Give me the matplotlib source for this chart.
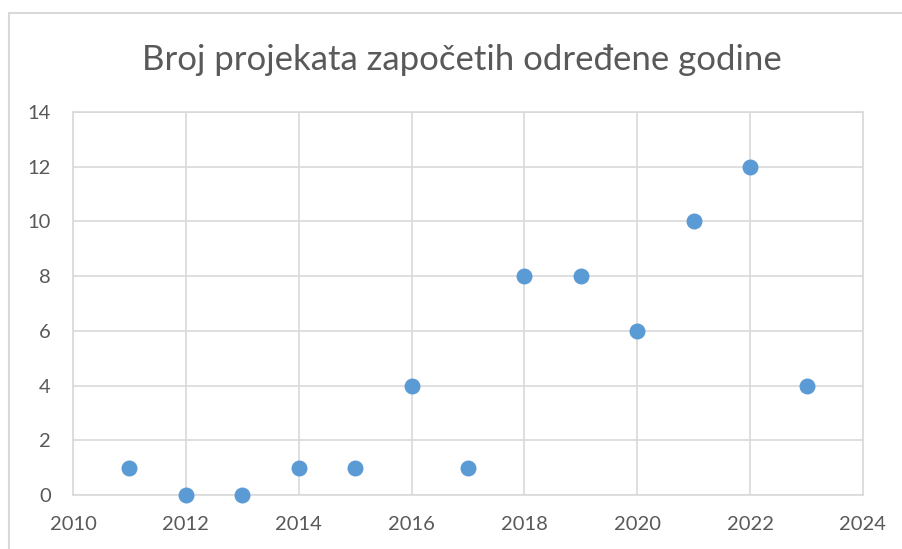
import matplotlib
matplotlib.use('Agg')
import matplotlib.pyplot as plt
from matplotlib.patches import Rectangle

# godine i broj projekata
godine = [2011, 2012, 2013, 2014, 2015, 2016, 2017, 2018, 2019, 2020, 2021, 2022, 2023]
broj = [1, 0, 0, 1, 1, 4, 1, 8, 8, 6, 10, 12, 4]
x_ticks = [2010, 2012, 2014, 2016, 2018, 2020, 2022, 2024]
y_ticks = [0, 2, 4, 6, 8, 10, 12, 14]

plt.rcParams['font.family'] = ['Lato', 'DejaVu Sans']

fig = plt.figure(figsize=(9.03, 5.49), dpi=100)
ax = fig.add_axes([73/903, 1 - 495/549, (863 - 73)/903, (495 - 112)/549])

# okvir grafikona
fig.patches.append(Rectangle((9/903, -0.1), 1.2, 0.1 + 1 - 13/549, transform=fig.transFigure,
                             fill=False, edgecolor='#d9d9d9', linewidth=1.5))

ax.scatter(godine, broj, s=110, color='#5b9bd5', zorder=3, clip_on=False)

ax.set_xlim(2010, 2024)
ax.set_ylim(0, 14)
ax.set_xticks(x_ticks)
ax.set_yticks(y_ticks)
ax.grid(True, color='#d9d9d9', linewidth=1.2)
for s in ax.spines.values():
    s.set_color('#d9d9d9')
    s.set_linewidth(1.2)
ax.tick_params(length=0, labelsize=14.5, labelcolor='#595959')
ax.tick_params(axis='x', pad=15)
ax.tick_params(axis='y', pad=16)

fig.text(462/903, 1 - 60/549, 'Broj projekata započetih određene godine',
         ha='center', va='center', fontsize=25, color='#595959')

fig.savefig('out.png', dpi=100)
